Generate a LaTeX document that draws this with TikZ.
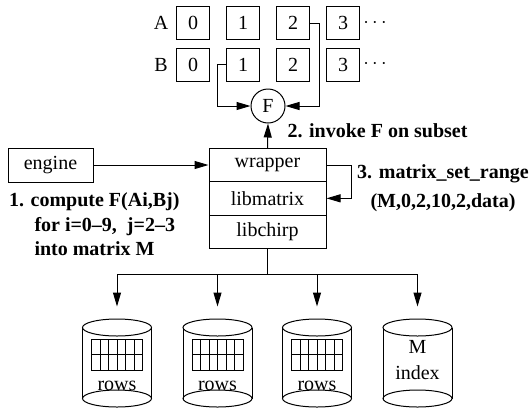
\documentclass[tikz,border=0pt]{standalone}
\usepackage{fontspec}
\setmainfont{Liberation Serif}
\usetikzlibrary{arrows.meta, positioning}

\begin{document}
\begin{tikzpicture}[x=0.6pt, y=-0.6pt, line width=0.6pt,
        font=\fontsize{12}{14.4}\selectfont,
        cell/.style={draw, minimum size=19.8pt, inner sep=0pt},
        layer/.style={draw, minimum width=70.2pt, minimum height=20pt, inner sep=0pt},
        dbbox/.style={minimum width=41.4pt, minimum height=52.8pt, inner sep=0pt},
        arr/.style={-{Triangle[length=8.4pt, width=4.8pt]}},
        lbl/.style={inner sep=0pt, font=\fontsize{12}{14.7}\selectfont\bfseries}]
        \useasboundingbox (0,0) rectangle (531,412);

        \node (labA) at (161,23) {A};
        \node (labB) at (161,64.5) {B};
        \foreach \i in {0,...,3} {
            \node (A\i) [cell] at (193+50*\i,23) {\i};
            \node (B\i) [cell] at (193+50*\i,64.5) {\i};
        }
        \node (dotsA) at (375,23) {$\cdots$};
        \node (dotsB) at (375,64.5) {$\cdots$};

        \node (F) [draw, circle, minimum size=20.4pt, inner sep=0pt] at (268,106) {F};
        \draw [arr] (B1.west) -- ++(-9,0) |- (F.west);
        \draw [arr] (A2.east) -- ++(9,0) |- (F.east);

        \node (wrapper) [layer] at (267.5,165) {wrapper};
        \node (libmatrix) [layer, below=-0.6pt of wrapper] {libmatrix};
        \node (libchirp) [layer, below=-0.6pt of libmatrix] {libchirp};
        \node (engine) [draw, minimum width=51pt, minimum height=20.4pt, inner sep=0pt] at (50.5,165) {engine};

        \draw [arr] (engine.east) -- (wrapper.west);
        \draw [arr] (wrapper.north) -- (F.south);
        \draw [arr] (wrapper.east) -- ++(25,0) |- (libmatrix.east);

        \node (step1) [lbl, align=left, anchor=west] at (8.5,224.5)
            {1. compute F(Ai,Bj)\\\hspace*{15.3pt}for i=0--9,\ \ j=2--3\\\hspace*{15.3pt}into matrix M};
        \node (step2) [lbl, anchor=base west] at (287,137) {2. invoke F on subset};
        \node (step3) [lbl, align=center] at (443,188) {3. matrix\_set\_range\\[2.7pt](M,0,2,10,2,data)};

        % storage
        \draw (libchirp.south) -- ++(0,26) coordinate (split);
        \foreach \i/\x in {1/117,2/217.5,3/317,4/417.5} {
            \node (db\i) [dbbox] at (\x,363) {};
            \draw (\x,327.5) ellipse [x radius=34.5, y radius=8.5];
            \draw (\x,398.5) ellipse [x radius=34.5, y radius=8.5];
            \draw (\x-34.5,327.5) -- (\x-34.5,398.5) (\x+34.5,327.5) -- (\x+34.5,398.5);
        }
        \draw (split -| db1.north) -- (split -| db4.north);
        \foreach \i in {1,...,4}
            \draw [arr, shorten >=7.2pt] (split -| db\i.north) -- (db\i.north);

        \foreach \i/\x in {1/117,2/217.5,3/317} {
            \draw (\x-25.5,339) rectangle (\x+25.5,370);
            \draw (\x-25.5,354.5) -- (\x+25.5,354.5);
            \foreach \k in {1,...,5}
                \draw (\x-25.5+8.5*\k,339) -- (\x-25.5+8.5*\k,370);
            \node (rows\i) at (\x,385.5) {rows};
        }
        \node (index) [align=center, inner sep=0pt, font=\fontsize{12}{15.6}\selectfont] at (417.5,360.5) {M\\index};
\end{tikzpicture}
\end{document}
